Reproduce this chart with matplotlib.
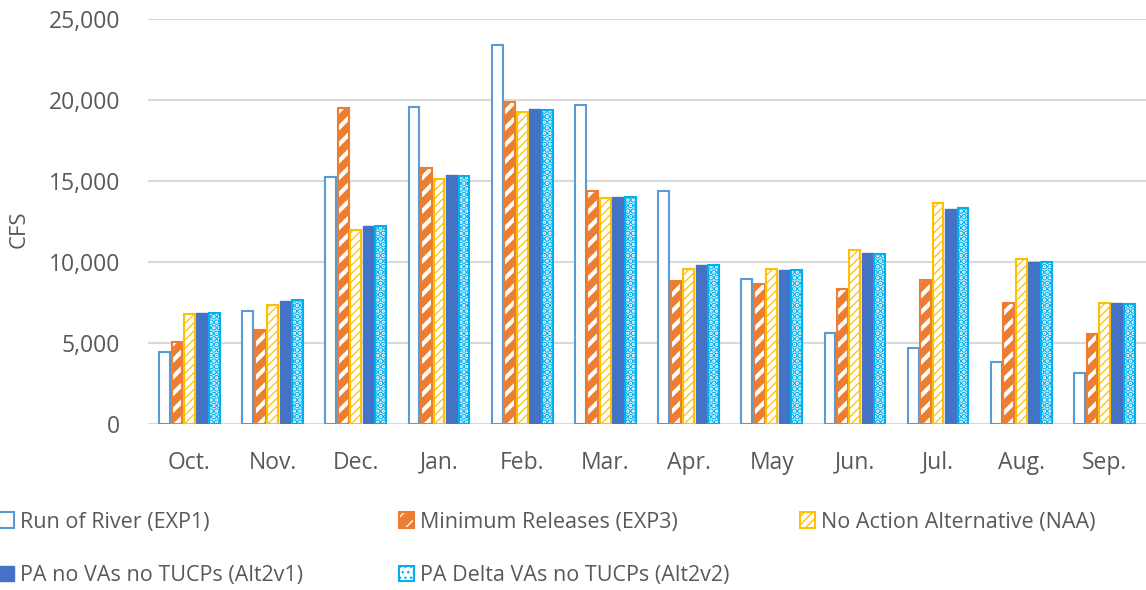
import matplotlib
matplotlib.use("Agg")
import matplotlib.pyplot as plt
import numpy as np

plt.rcParams["font.family"] = ["Open Sans", "DejaVu Sans"]

months = ["Oct.", "Nov.", "Dec.", "Jan.", "Feb.", "Mar.", "Apr.", "May",
          "Jun.", "Jul.", "Aug.", "Sep."]

exp1 = [4450, 7000, 15230, 19550, 23400, 19690, 14400, 8970, 5640, 4690, 3830, 3170]
exp3 = [5080, 5780, 19520, 15820, 19860, 14360, 8850, 8620, 8340, 8890, 7450, 5560]
naa = [6770, 7370, 12000, 15140, 19280, 13970, 9590, 9590, 10760, 13620, 10190, 7450]
alt2v1 = [6830, 7610, 12240, 15390, 19470, 14010, 9820, 9490, 10540, 13270, 9980, 7450]
alt2v2 = [6830, 7640, 12240, 15310, 19400, 14030, 9800, 9490, 10520, 13310, 9980, 7410]

labels = ["Run of River (EXP1)", "Minimum Releases (EXP3)",
          "No Action Alternative (NAA)", "PA no VAs no TUCPs (Alt2v1)",
          "PA Delta VAs no TUCPs (Alt2v2)"]

BLUE_OUT = "#5B9BD5"
ORANGE = "#ED7D31"
GOLD = "#FFC000"
DBLUE = "#4472C4"
CYAN = "#00B0F0"
TXT = "#595959"


def hatch_lw(container, lw):
    for p in container:
        if hasattr(p, "set_hatch_linewidth"):
            p.set_hatch_linewidth(lw)


fig = plt.figure(figsize=(11.46, 5.90), dpi=100)
ax = fig.add_axes([0.129, 0.281, 0.871, 0.687])

x = np.arange(len(months))
slot = 0.15
w = 0.13
offs = (np.arange(5) - 2) * slot

# EXP1: outline only
h1 = ax.bar(x + offs[0], exp1, w, facecolor="white", edgecolor=BLUE_OUT, lw=1.5, zorder=3)

# EXP3: orange with wide white stripes
f3 = ax.bar(x + offs[1], exp3, w, facecolor=ORANGE, edgecolor="white", hatch="//", lw=0, zorder=3)
hatch_lw(f3, 3.0)
o3 = ax.bar(x + offs[1], exp3, w, facecolor="none", edgecolor=ORANGE, lw=1.5, zorder=4)

# NAA: white with thin gold stripes
f4 = ax.bar(x + offs[2], naa, w, facecolor="white", edgecolor=GOLD, hatch="////", lw=0, zorder=3)
hatch_lw(f4, 0.9)
o4 = ax.bar(x + offs[2], naa, w, facecolor="none", edgecolor=GOLD, lw=1.5, zorder=4)

# Alt2v1: solid
h5 = ax.bar(x + offs[3], alt2v1, w, facecolor=DBLUE, edgecolor=DBLUE, lw=1.0, zorder=3)

# Alt2v2: white with cyan confetti
f6 = ax.bar(x + offs[4], alt2v2, w, facecolor="white", edgecolor=CYAN, hatch="...", lw=0, zorder=3)
hatch_lw(f6, 3.2)
o6 = ax.bar(x + offs[4], alt2v2, w, facecolor="none", edgecolor=CYAN, lw=1.5, zorder=4)

ax.set_xlim(-0.5, len(months) - 0.5)
ax.set_ylim(0, 25000)
ax.set_yticks(np.arange(0, 25001, 5000))
ax.set_yticklabels([f"{v:,}" for v in range(0, 25001, 5000)])
ax.set_xticks(x)
ax.set_xticklabels(months)
ax.tick_params(axis="both", length=0, labelsize=16.5, colors=TXT)
ax.tick_params(axis="x", pad=19)
ax.tick_params(axis="y", pad=20)
ax.grid(True, axis="y", color="#D9D9D9", lw=1.5, zorder=0)
ax.set_axisbelow(True)
for s in ax.spines.values():
    s.set_visible(False)
ax.set_ylabel("CFS", fontsize=16, color=TXT)
ax.yaxis.set_label_coords(-0.118, 0.48)

# three columns of equal width, as in the original layout
cols = [([h1, h5], [labels[0], labels[3]], 0.0),
        ([(f3, o3), (f6, o6)], [labels[1], labels[4]], 0.349),
        ([(f4, o4)], [labels[2]], 0.699)]
for hs, ls, xa in cols:
    fig.legend(hs, ls, loc="upper left", bbox_to_anchor=(xa - 0.001, 0.133),
               ncol=1, frameon=False, fontsize=15.5, labelcolor=TXT,
               handlelength=0.7, handleheight=0.7, handletextpad=0.3,
               labelspacing=1.5, borderaxespad=0, borderpad=0)

fig.savefig("out.png", dpi=100)
